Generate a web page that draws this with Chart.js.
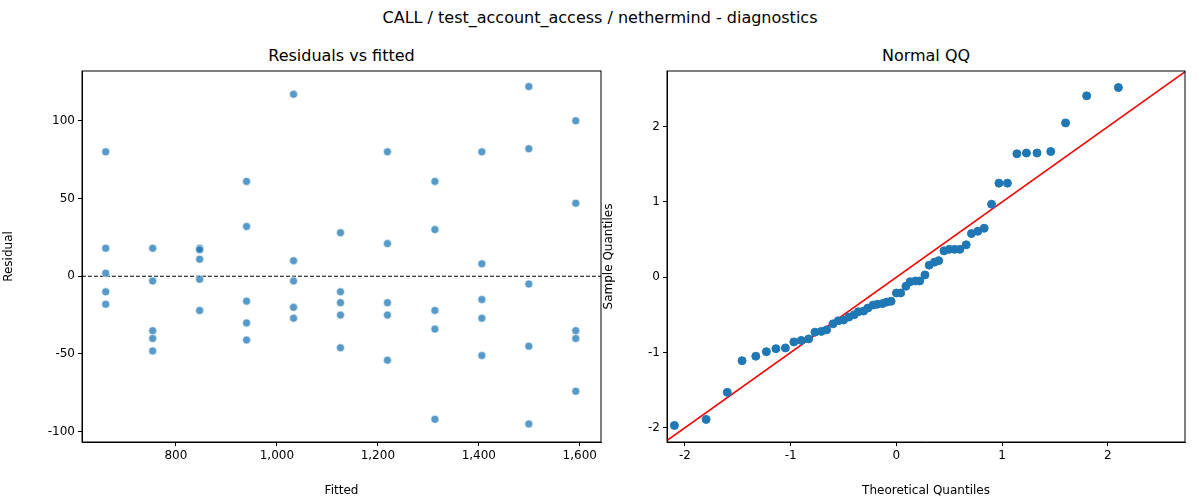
<!DOCTYPE html>
<html><head><meta charset="utf-8">
<script src="https://cdn.jsdelivr.net/npm/chart.js@4"></script>
<style>
body{margin:0;width:1200px;height:500px;background:#fff;font-family:"DejaVu Sans",sans-serif;position:relative;overflow:hidden}
.t{position:absolute;width:100%;text-align:center;color:#000}
.box{position:absolute;top:0;height:500px}
</style></head><body>
<div class="t" style="top:8px;font-size:16px">CALL / test_account_access / nethermind - diagnostics</div>
<div class="t" style="top:46px;left:82px;width:519px;font-size:16px">Residuals vs fitted</div>
<div class="t" style="top:46px;left:667px;width:518px;font-size:16px">Normal QQ</div>
<div class="box" style="left:0;width:610px"><canvas id="c1"></canvas></div>
<div class="box" style="left:600px;width:600px"><canvas id="c2"></canvas></div>
<script>
// residuals vs fitted
const fitted = [661, 754, 847, 940, 1033, 1126, 1219, 1313, 1406, 1499, 1592];
const residuals = [
  [80, 18, 2, -10, -18],
  [18, -3, -35, -40, -48],
  [18, 17, 11, -2, -22],
  [61, 32, -16, -30, -41],
  [117, 10, -3, -20, -27],
  [28, -10, -17, -25, -46],
  [80, 21, -17, -25, -54],
  [61, 30, -22, -34, -92],
  [80, 8, -15, -27, -51],
  [122, 82, -5, -45, -95],
  [100, 47, -35, -40, -74]
];
const fitTicks = [800, 1000, 1200, 1400, 1600];
const resTicks = [-100, -50, 0, 50, 100];

// normal QQ
const theoQ = [-2.1,-1.8,-1.6,-1.46,-1.33,-1.23,-1.14,-1.05,-0.97,-0.9,-0.83,-0.77,-0.71,-0.66,-0.6,-0.55,-0.5,-0.45,-0.4,-0.36,-0.31,-0.27,-0.22,-0.18,-0.13,-0.09,-0.05,0,0.04,0.09,0.13,0.18,0.22,0.27,0.31,0.36,0.4,0.45,0.5,0.55,0.6,0.66,0.71,0.77,0.83,0.9,0.97,1.05,1.14,1.23,1.33,1.46,1.6,1.8,2.1];
const sampleQ = [-1.97,-1.89,-1.53,-1.11,-1.05,-0.99,-0.95,-0.94,-0.86,-0.84,-0.82,-0.73,-0.72,-0.70,-0.62,-0.58,-0.57,-0.53,-0.50,-0.46,-0.45,-0.41,-0.37,-0.36,-0.35,-0.33,-0.32,-0.21,-0.21,-0.12,-0.06,-0.05,-0.05,0.03,0.16,0.20,0.22,0.35,0.37,0.37,0.37,0.43,0.58,0.61,0.65,0.97,1.25,1.25,1.64,1.65,1.65,1.67,2.05,2.41,2.52];
const qqTicks = [-2, -1, 0, 1, 2];
const refLine = [[-2.2, -2.2], [2.75, 2.75]];

const font = {family: '"DejaVu Sans", sans-serif', size: 12};
Chart.defaults.color = '#000';
Chart.defaults.animation = false;

const frame = {
  id: 'frame',
  afterDraw(chart) {
    const a = chart.chartArea, ctx = chart.ctx;
    ctx.save(); ctx.strokeStyle = '#000'; ctx.lineWidth = 1;
    ctx.strokeRect(a.left, a.top, a.right - a.left, a.bottom - a.top);
    ctx.restore();
  }
};

function axis(min, max, ticks, title, size, pos) {
  return {
    type: 'linear', position: pos, min: min, max: max,
    afterBuildTicks: s => { s.ticks = ticks.map(v => ({value: v})); },
    afterFit: s => { if (pos === 'left') s.width = size; else s.height = size; },
    grid: {drawOnChartArea: false, drawTicks: true, tickLength: 4, color: '#000'},
    border: {display: true, color: '#000'},
    ticks: {font: font, padding: 3},
    title: {display: true, text: title, font: font, padding: 2}
  };
}

const pts = [];
fitted.forEach((f, i) => residuals[i].forEach(r => pts.push({x: f, y: r})));

new Chart(document.getElementById('c1'), {
  type: 'scatter',
  data: {datasets: [
    {data: pts, backgroundColor: 'rgba(31,119,180,0.75)', borderColor: '#fff', borderWidth: 0.6, pointRadius: 4},
    {type: 'line', data: [{x: 614, y: 0}, {x: 1642, y: 0}], borderColor: '#000', borderWidth: 1, borderDash: [4, 2], pointRadius: 0}
  ]},
  options: {
    responsive: true, maintainAspectRatio: false,
    layout: {padding: {top: 71, right: 9, left: 0, bottom: 0}},
    plugins: {legend: {display: false}, tooltip: {enabled: false}},
    scales: {
      x: axis(614, 1642, fitTicks, 'Fitted', 58, 'bottom'),
      y: axis(-106.6, 132, resTicks, 'Residual', 82, 'left')
    }
  },
  plugins: [frame]
});

new Chart(document.getElementById('c2'), {
  type: 'scatter',
  data: {datasets: [
    {data: theoQ.map((x, i) => ({x: x, y: sampleQ[i]})), backgroundColor: '#1f77b4', borderColor: '#1f77b4', pointRadius: 4},
    {type: 'line', data: refLine.map(p => ({x: p[0], y: p[1]})), borderColor: '#ff0000', borderWidth: 1.5, pointRadius: 0}
  ]},
  options: {
    responsive: true, maintainAspectRatio: false,
    layout: {padding: {top: 71, right: 15, left: 0, bottom: 0}},
    plugins: {legend: {display: false}, tooltip: {enabled: false}},
    scales: {
      x: axis(-2.17, 2.73, qqTicks, 'Theoretical Quantiles', 58, 'bottom'),
      y: axis(-2.19, 2.74, qqTicks, 'Sample Quantiles', 67, 'left')
    }
  },
  plugins: [frame]
});
</script>
</body></html>
